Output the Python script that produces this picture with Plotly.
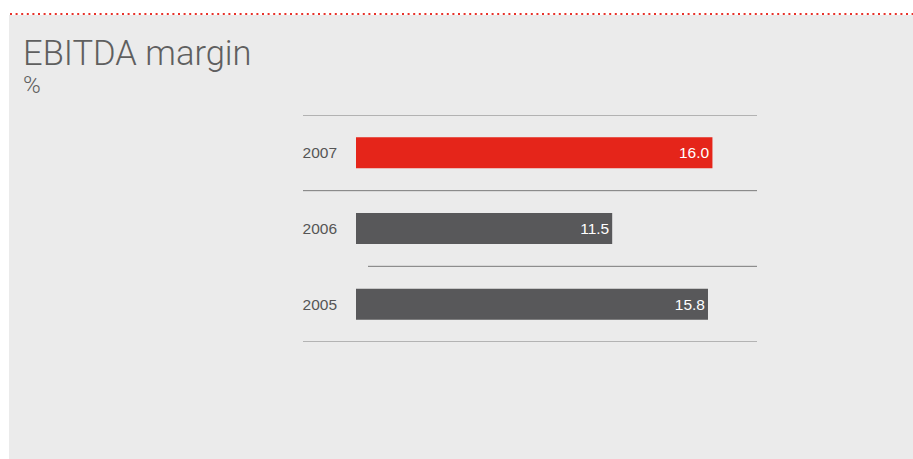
import plotly.graph_objects as go

years = ["2005", "2006", "2007"]
margin_pct = [15.8, 11.5, 16.0]
bar_colors = ["#58585a", "#58585a", "#e5251a"]
labels = [f"{v:.1f}" for v in margin_pct]

W, H = 913, 459
L, R, T, B = 356, 757, 115, 342  # plot area pixels


def px(x):
    return (x - L) / (R - L)


def py(y):
    return (B - y) / (B - T)


fig = go.Figure()
fig.add_trace(go.Bar(
    x=margin_pct, y=years, orientation="h",
    marker=dict(color=bar_colors, line=dict(width=0)),
    width=0.41,
    text=labels, textposition="inside", insidetextanchor="end",
    textfont=dict(color="white", size=15.5, family="Liberation Sans, Arial"),
    cliponaxis=False, hoverinfo="skip",
))

shapes = [
    dict(type="rect", xref="paper", yref="paper", x0=px(9), x1=px(913), y0=py(15), y1=py(459),
         fillcolor="#ebebeb", line=dict(width=0), layer="below"),
    dict(type="line", xref="paper", yref="paper", x0=px(10), x1=px(913), y0=py(14), y1=py(14),
         line=dict(color="#e8322a", width=2, dash="2px,3.6px")),
]
# separator lines between categories
sep = [(-0.5, 303), (0.5, 368), (1.5, 303), (2.5, 303)]
for yv, x0 in sep:
    shapes.append(dict(type="line", xref="paper", yref="y", x0=px(x0), x1=1, y0=yv, y1=yv,
                       line=dict(color="#7a7a7a", width=1)))

fig.update_layout(
    width=W, height=H,
    margin=dict(l=L, r=W - R, t=T, b=H - B, pad=0),
    paper_bgcolor="white", plot_bgcolor="rgba(0,0,0,0)",
    showlegend=False,
    shapes=shapes,
    xaxis=dict(range=[0, 18], visible=False, fixedrange=True),
    yaxis=dict(type="category", categoryorder="array", categoryarray=years,
               range=[-0.5, 2.5], showgrid=False, zeroline=False, showline=False,
               ticks="", ticklabelstandoff=18,
               tickfont=dict(size=15.5, color="#555555", family="Liberation Sans, Arial")),
    annotations=[
        dict(text="EBITDA margin", xref="paper", yref="paper", x=px(21), y=py(53),
             xanchor="left", yanchor="middle", showarrow=False,
             font=dict(size=34.5, color="#5f5f5f", family="Roboto", weight=300)),
        dict(text="%", xref="paper", yref="paper", x=px(21), y=py(85),
             xanchor="left", yanchor="middle", showarrow=False,
             font=dict(size=24, color="#5f5f5f", family="Roboto", weight=300)),
    ],
)

fig.write_html("out.html")
